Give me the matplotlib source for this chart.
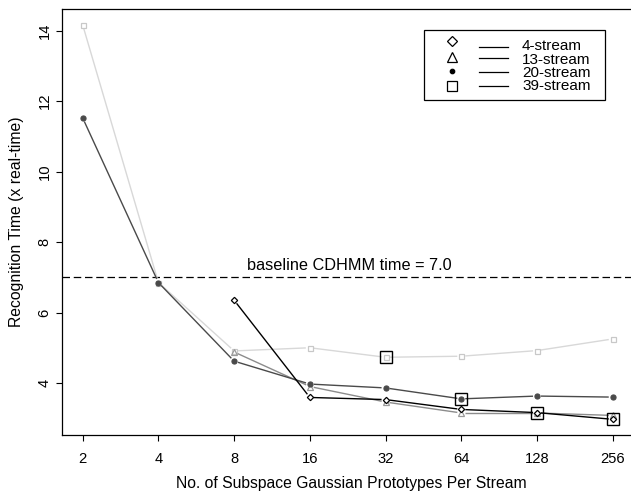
import numpy as np
import matplotlib
matplotlib.use("Agg")
import matplotlib.pyplot as plt
from matplotlib.lines import Line2D
from matplotlib.patches import Rectangle

plt.rcParams['font.family'] = ['Liberation Sans', 'DejaVu Sans']

# ---- data ----
x_all = [2, 4, 8, 16, 32, 64, 128, 256]
s39_x = [2, 4, 8, 16, 32, 64, 128, 256]
s39_y = [14.16, 6.85, 4.91, 5.00, 4.73, 4.76, 4.92, 5.25]
s20_x = [2, 4, 8, 16, 32, 64, 128, 256]
s20_y = [11.52, 6.85, 4.62, 3.97, 3.86, 3.55, 3.63, 3.60]
s13_x = [8, 16, 32, 64, 128, 256]
s13_y = [4.88, 3.90, 3.46, 3.15, 3.15, 3.08]
s4_x = [8, 16, 32, 64, 128, 256]
s4_y = [6.35, 3.59, 3.53, 3.25, 3.16, 2.97]
best_x = [32, 64, 128, 256]
best_y = [4.73, 3.55, 3.16, 2.97]
baseline = 7.0
baseline_label = "baseline CDHMM time = 7.0"
y_ticks = [4, 6, 8, 10, 12, 14]
legend_labels = ["4-stream", "13-stream", "20-stream", "39-stream"]

W, H = 631, 494
fig = plt.figure(figsize=(W / 100, H / 100), dpi=100)
L, R, T, B = 62, 640, 9, 435
ax = fig.add_axes([L / W, 1 - B / H, (R - L) / W, (B - T) / H])
ax.set_xscale('log', base=2)
ax.set_xlim(2 ** 0.727, 2 ** 8.36)
ax.set_ylim(2.525, 14.61)

for sp in ax.spines.values():
    sp.set_linewidth(0.9)
    sp.set_color('black')
ax.spines['right'].set_visible(False)

ax.set_xticks(x_all)
ax.set_xticklabels([str(v) for v in x_all])
ax.xaxis.set_minor_locator(matplotlib.ticker.NullLocator())
ax.set_yticks(y_ticks)
ax.set_yticklabels([str(v) for v in y_ticks], rotation=90, va='center')
ax.tick_params(axis='both', direction='out', length=4.5, width=0.8, labelsize=10.6)
ax.tick_params(axis='x', pad=8)
ax.tick_params(axis='y', pad=3)
ax.set_xlabel("No. of Subspace Gaussian Prototypes Per Stream", fontsize=11.3, labelpad=7)
ax.set_ylabel("Recognition Time (x real-time)", fontsize=11.3, labelpad=10)

# baseline
ax.axhline(baseline, color='black', lw=0.9, ls=(0, (6, 3)))
ax.text(9.0, baseline + 0.12, baseline_label, fontsize=11.7, ha='left', va='bottom')

GAP = 4.0  # pixels


def gapped(xs, ys, color, lw):
    pts = ax.transData.transform(np.column_stack([xs, ys]))
    inv = ax.transData.inverted()
    for p0, p1 in zip(pts[:-1], pts[1:]):
        d = p1 - p0
        n = np.hypot(*d)
        if n <= 2 * GAP:
            continue
        u = d / n
        a = inv.transform(p0 + u * GAP)
        b = inv.transform(p1 - u * GAP)
        ax.plot([a[0], b[0]], [a[1], b[1]], color=color, lw=lw, solid_capstyle='butt')


series = [
    (s39_x, s39_y, '#d8d8d8', 's', '#c8c8c8', 'none', 3.6),
    (s13_x, s13_y, '#8c8c8c', '^', '#9a9a9a', 'none', 3.8),
    (s20_x, s20_y, '#4a4a4a', 'o', '#4a4a4a', '#4a4a4a', 3.6),
    (s4_x, s4_y, '#000000', 'D', '#000000', 'white', 3.2),
]
for xs, ys, lc, mk, mec, mfc, ms in series:
    gapped(xs, ys, lc, 1.0)
    ax.plot(xs, ys, ls='none', marker=mk, mec=mec, mfc=mfc, ms=ms, mew=0.9)

ax.plot(best_x, best_y, ls='none', marker='s', ms=9, mfc='none', mec='black', mew=1.0)

# legend (manual, R style)
ft = fig.transFigure
def fx(px):
    return px / W
def fy(py):
    return 1 - py / H

fig.patches.append(Rectangle((fx(424), fy(100)), fx(605) - fx(424), fy(30) - fy(100),
                             transform=ft, fill=False, edgecolor='black', lw=0.9, zorder=5))
leg_markers = [('D', 5.2, 'white'), ('^', 6.5, 'white'), ('o', 3.2, 'black'), ('s', 6.5, 'white')]
sym_y = [41, 57.5, 71.5, 86]
line_y = [47.5, 58.5, 72.5, 86]
text_y = [46, 59.5, 73, 86.5]
for (mk, ms, mfc), sy, ly, ty, lab in zip(leg_markers, sym_y, line_y, text_y, legend_labels):
    fig.add_artist(Line2D([fx(452)], [fy(sy)], transform=ft, marker=mk, ms=ms,
                          mfc=mfc, mec='black', mew=0.9, ls='none'))
    fig.add_artist(Line2D([fx(479), fx(508)], [fy(ly), fy(ly)], transform=ft,
                          color='black', lw=0.9))
    fig.text(fx(522), fy(ty), lab, fontsize=11.0, ha='left', va='center')

fig.savefig("out.png", dpi=100)
